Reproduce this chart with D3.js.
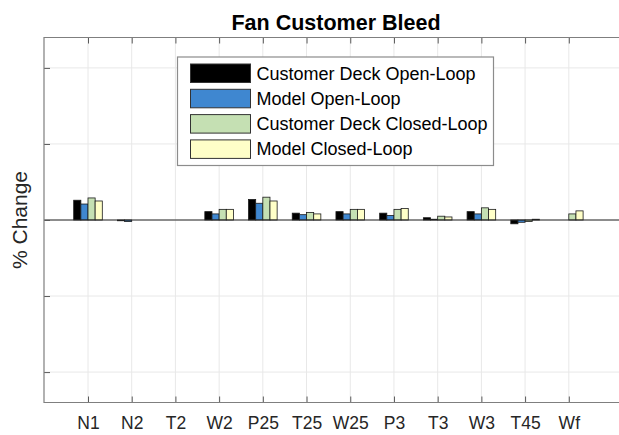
<!DOCTYPE html>
<html>
<head>
<meta charset="utf-8">
<script src="https://cdn.jsdelivr.net/npm/d3@7"></script>
<style>
  body { margin: 0; background: #fff; }
  text { font-family: "Liberation Sans", Arial, sans-serif; }
</style>
</head>
<body>
<svg id="chart" width="619" height="435"></svg>
<script>
var categories = ["N1", "N2", "T2", "W2", "P25", "T25", "W25", "P3", "T3", "W3", "T45", "Wf"];
var seriesNames = ["Customer Deck Open-Loop", "Model Open-Loop", "Customer Deck Closed-Loop", "Model Closed-Loop"];
var seriesColors = ["#000000", "#3f87d0", "#c5e0b3", "#ffffc8"];

// % change per category, one array per series
var deckOpen    = [0.26, -0.01, 0.00, 0.11, 0.27, 0.09, 0.11, 0.09, 0.03, 0.11, -0.05, 0.00];
var modelOpen   = [0.21, -0.02, 0.00, 0.08, 0.22, 0.07, 0.08, 0.06, 0.01, 0.08, -0.03, 0.00];
var deckClosed  = [0.29,  0.00, 0.00, 0.14, 0.30, 0.10, 0.14, 0.14, 0.05, 0.16, -0.02, 0.08];
var modelClosed = [0.25,  0.00, 0.00, 0.14, 0.25, 0.08, 0.14, 0.15, 0.04, 0.14,  0.01, 0.12];
var seriesValues = [deckOpen, modelOpen, deckClosed, modelClosed];
var yTicks = [-2, -1, 0, 1, 2];

drawChart();

function drawChart() {
    var svg = d3.select("#chart"),
        left = 44, right = 628, plotTop = 37.5, plotBottom = 402.5;

    svg.append("rect").attr("width", 619).attr("height", 435).attr("fill", "#fff");

    var x = d3.scalePoint().domain(categories).range([88, 568.8]),
        y = d3.scaleLinear().domain([-2.4, 2.4]).range([plotBottom, plotTop]),
        inner = d3.scaleBand().domain(seriesNames).range([-14.3, 14.3]);

    var plot = svg.append("g");

    // grid
    plot.selectAll(".vgrid").data(categories).enter().append("line")
        .attr("x1", function(d) { return x(d); })
        .attr("x2", function(d) { return x(d); })
        .attr("y1", plotTop).attr("y2", plotBottom)
        .attr("stroke", "#e8e8e8").attr("stroke-width", 1);
    plot.selectAll(".hgrid").data(yTicks).enter().append("line")
        .attr("x1", left).attr("x2", right)
        .attr("y1", function(d) { return y(d); })
        .attr("y2", function(d) { return y(d); })
        .attr("stroke", "#e8e8e8").attr("stroke-width", 1);

    // bars
    var rows = [];
    seriesValues.forEach(function(vals, s) {
        vals.forEach(function(v, i) {
            rows.push({cat: categories[i], s: s, v: v});
        });
    });

    plot.selectAll(".bar").data(rows).enter().append("rect")
        .attr("x", function(d) { return x(d.cat) + inner(seriesNames[d.s]); })
        .attr("width", inner.bandwidth())
        .attr("y", function(d) { return Math.min(y(d.v), y(0)); })
        .attr("height", function(d) { return Math.abs(y(d.v) - y(0)); })
        .attr("fill", function(d) { return seriesColors[d.s]; })
        .attr("stroke", "#1a1a1a")
        .attr("stroke-width", 0.8);

    // zero line
    plot.append("line")
        .attr("x1", left).attr("x2", right)
        .attr("y1", y(0)).attr("y2", y(0))
        .attr("stroke", "#262626").attr("stroke-width", 1);

    // axes
    var bAxis = plot.append("g").attr("transform", "translate(0," + plotBottom + ")")
        .call(d3.axisBottom(x).tickSizeInner(-6).tickSizeOuter(0).tickPadding(14));
    var tAxis = plot.append("g").attr("transform", "translate(0," + plotTop + ")")
        .call(d3.axisTop(x).tickSizeInner(-6).tickSizeOuter(0).tickFormat(""));
    var lAxis = plot.append("g").attr("transform", "translate(" + left + ",0)")
        .call(d3.axisLeft(y).tickValues(yTicks).tickSizeInner(-6).tickSizeOuter(0).tickFormat(""));

    [bAxis, tAxis, lAxis].forEach(function(a) {
        a.select(".domain").remove();
        a.selectAll(".tick line").attr("stroke", "#595959");
    });
    bAxis.selectAll(".tick text")
        .attr("font-size", 17.5)
        .attr("fill", "#262626")
        .attr("font-family", "Liberation Sans, Arial, sans-serif");

    // box
    plot.append("path")
        .attr("d", "M" + right + "," + plotTop + "H" + left + "V" + plotBottom + "H" + right)
        .attr("fill", "none")
        .attr("stroke", "#7f7f7f")
        .attr("stroke-width", 1.2);

    // title and label
    svg.append("text")
        .attr("x", (left + right) / 2).attr("y", 30)
        .attr("text-anchor", "middle")
        .attr("font-size", 21.5).attr("font-weight", "bold")
        .text("Fan Customer Bleed");

    svg.append("text")
        .attr("transform", "translate(27," + (plotTop + plotBottom) / 2 + ") rotate(-90)")
        .attr("text-anchor", "middle")
        .attr("font-size", 21)
        .attr("fill", "#262626")
        .text("% Change");

    // legend
    var legend = svg.append("g").attr("transform", "translate(177.5,57)");
    legend.append("rect")
        .attr("width", 316).attr("height", 108.5)
        .attr("fill", "#fff").attr("stroke", "#8c8c8c").attr("stroke-width", 1.2);

    var item = legend.selectAll(".item").data(seriesNames).enter().append("g")
        .attr("transform", function(d, i) { return "translate(13," + (7 + i * 25.3) + ")"; });
    item.append("rect")
        .attr("width", 60).attr("height", 18.5)
        .attr("fill", function(d, i) { return seriesColors[i]; })
        .attr("stroke", "#333").attr("stroke-width", 1);
    item.append("text")
        .attr("x", 66).attr("y", 15.5)
        .attr("font-size", 18)
        .attr("fill", "#000")
        .text(function(d) { return d; });
}
</script>
</body>
</html>
